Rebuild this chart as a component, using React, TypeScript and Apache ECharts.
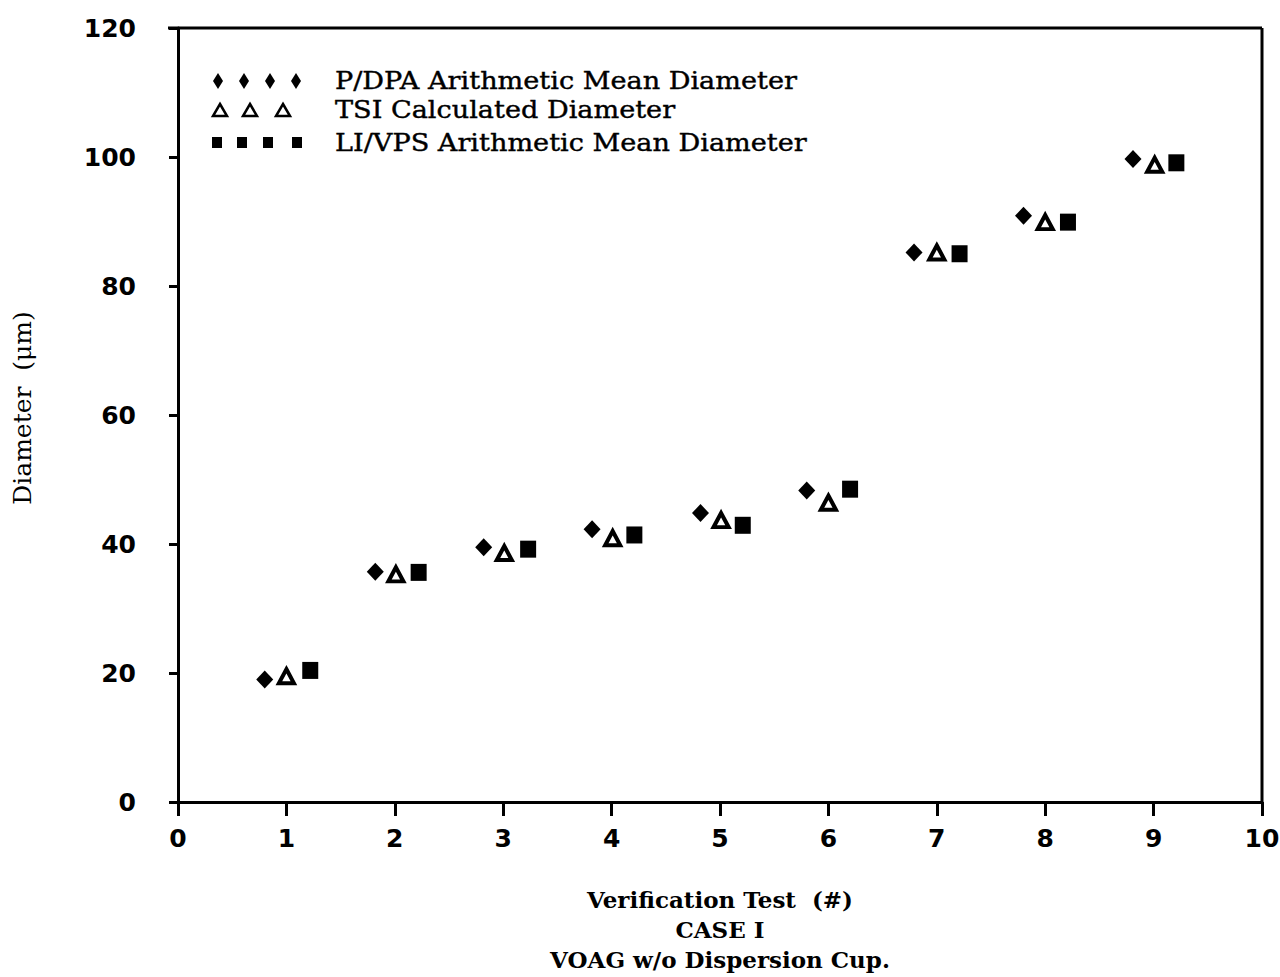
import React, { useEffect, useRef } from "react";
import * as echarts from "echarts";

// Data
const pdpaX = [0.8, 1.82, 2.82, 3.82, 4.82, 5.8, 6.79, 7.8, 8.81];
const pdpaY = [19.0, 35.7, 39.5, 42.3, 44.8, 48.3, 85.2, 90.9, 99.7];
const tsiX = [1.0, 2.01, 3.01, 4.01, 5.01, 6.0, 7.0, 8.0, 9.01];
const tsiY = [19.5, 35.3, 38.6, 40.9, 43.7, 46.4, 85.2, 89.9, 98.8];
const livpsX = [1.22, 2.22, 3.23, 4.21, 5.21, 6.2, 7.21, 8.21, 9.21];
const livpsY = [20.4, 35.6, 39.2, 41.4, 42.9, 48.5, 85.0, 89.9, 99.1];

const seriesNames = [
  "P/DPA Arithmetic Mean Diameter",
  "TSI Calculated Diameter",
  "LI/VPS Arithmetic Mean Diameter",
];
const xTitle = ["Verification Test  (#)", "CASE I", "VOAG w/o Dispersion Cup."];
const yTitle = "Diameter  (μm)";

const zip = (xs: number[], ys: number[]) => xs.map((x, i) => [x, ys[i]]);

const SERIF = "'DejaVu Serif', 'Liberation Serif', serif";
const TICKFONT = "'DejaVu Sans', sans-serif";

export default function App() {
  const ref = useRef<HTMLDivElement>(null);
  useEffect(() => {
    if (!ref.current) return;
    const chart = echarts.init(ref.current, null, { renderer: "svg" });
    const axisLine = { show: true, lineStyle: { color: "#000", width: 3 } };
    const legendText = (text: string, y: number) => ({
      type: "text",
      x: 335,
      y,
      scaleX: 1.13,
      style: {
        text,
        font: `24px ${SERIF}`,
        fill: "#000",
        stroke: "#000",
        lineWidth: 0.4,
        textAlign: "left",
        textVerticalAlign: "middle",
      },
    });
    const diamond = (x: number, y: number) => ({
      type: "polygon",
      shape: { points: [[x, y - 8], [x + 5, y], [x, y + 8], [x - 5, y]] },
      style: { fill: "#000" },
    });
    const tri = (x: number, y: number) => ({
      type: "polygon",
      shape: { points: [[x, y - 6], [x + 7, y + 6], [x - 7, y + 6]] },
      style: { fill: "#fff", stroke: "#000", lineWidth: 2.5 },
    });
    const sq = (x: number, y: number) => ({
      type: "rect",
      shape: { x: x - 5, y: y - 6, width: 10, height: 11 },
      style: { fill: "#000" },
    });
    chart.setOption({
      animation: false,
      backgroundColor: "#fff",
      grid: {
        left: 178,
        right: 18,
        top: 28,
        bottom: 175,
        containLabel: false,
        outerBoundsMode: "none",
      },
      xAxis: {
        type: "value",
        min: 0,
        max: 10,
        interval: 1,
        name: xTitle.join("\n"),
        nameLocation: "middle",
        nameGap: 82,
        nameTextStyle: {
          fontFamily: SERIF,
          fontSize: 23,
          fontWeight: "bold",
          lineHeight: 30,
          color: "#000",
          verticalAlign: "top",
        },
        axisLine: { ...axisLine, onZero: false },
        axisTick: { show: true, length: 14, lineStyle: { color: "#000", width: 3 } },
        axisLabel: {
          margin: 24,
          fontFamily: TICKFONT,
          fontWeight: "bold",
          fontSize: 25,
          color: "#000",
        },
        splitLine: { show: false },
      },
      yAxis: {
        type: "value",
        min: 0,
        max: 120,
        interval: 20,
        axisLine,
        axisTick: { show: true, length: 9, lineStyle: { color: "#000", width: 3 } },
        axisLabel: {
          margin: 42,
          fontFamily: TICKFONT,
          fontWeight: "bold",
          fontSize: 25,
          color: "#000",
        },
        splitLine: { show: false },
      },
      graphic: [
        {
          type: "line",
          shape: { x1: 168, y1: 28, x2: 1262, y2: 28 },
          style: { stroke: "#000", lineWidth: 3 },
        },
        {
          type: "line",
          shape: { x1: 1262, y1: 28, x2: 1262, y2: 802 },
          style: { stroke: "#000", lineWidth: 3 },
        },
        {
          type: "text",
          x: 22,
          y: 408,
          rotation: Math.PI / 2,
          style: {
            text: yTitle,
            font: `25px ${SERIF}`,
            fill: "#000",
            textAlign: "center",
            textVerticalAlign: "middle",
          },
        },
        ...[218, 244, 270, 296].map((x) => diamond(x, 81)),
        ...[220, 250, 283].map((x) => tri(x, 110)),
        ...[217, 242, 268, 297].map((x) => sq(x, 143)),
        legendText(seriesNames[0], 81),
        legendText(seriesNames[1], 110),
        legendText(seriesNames[2], 143),
      ],
      series: [
        {
          name: seriesNames[0],
          type: "scatter",
          symbol: "diamond",
          symbolSize: [17, 18],
          itemStyle: { color: "#000", opacity: 1 },
          data: zip(pdpaX, pdpaY),
        },
        {
          name: seriesNames[1],
          type: "scatter",
          symbol: "triangle",
          symbolSize: [15, 14],
          itemStyle: { color: "#fff", borderColor: "#000", borderWidth: 4, opacity: 1 },
          data: zip(tsiX, tsiY),
        },
        {
          name: seriesNames[2],
          type: "scatter",
          symbol: "rect",
          symbolSize: [16, 17],
          itemStyle: { color: "#000", opacity: 1 },
          data: zip(livpsX, livpsY),
        },
      ],
    });
    return () => chart.dispose();
  }, []);
  return <div ref={ref} style={{ width: 1280, height: 977, position: "absolute", left: 0, top: 0 }} />;
}
